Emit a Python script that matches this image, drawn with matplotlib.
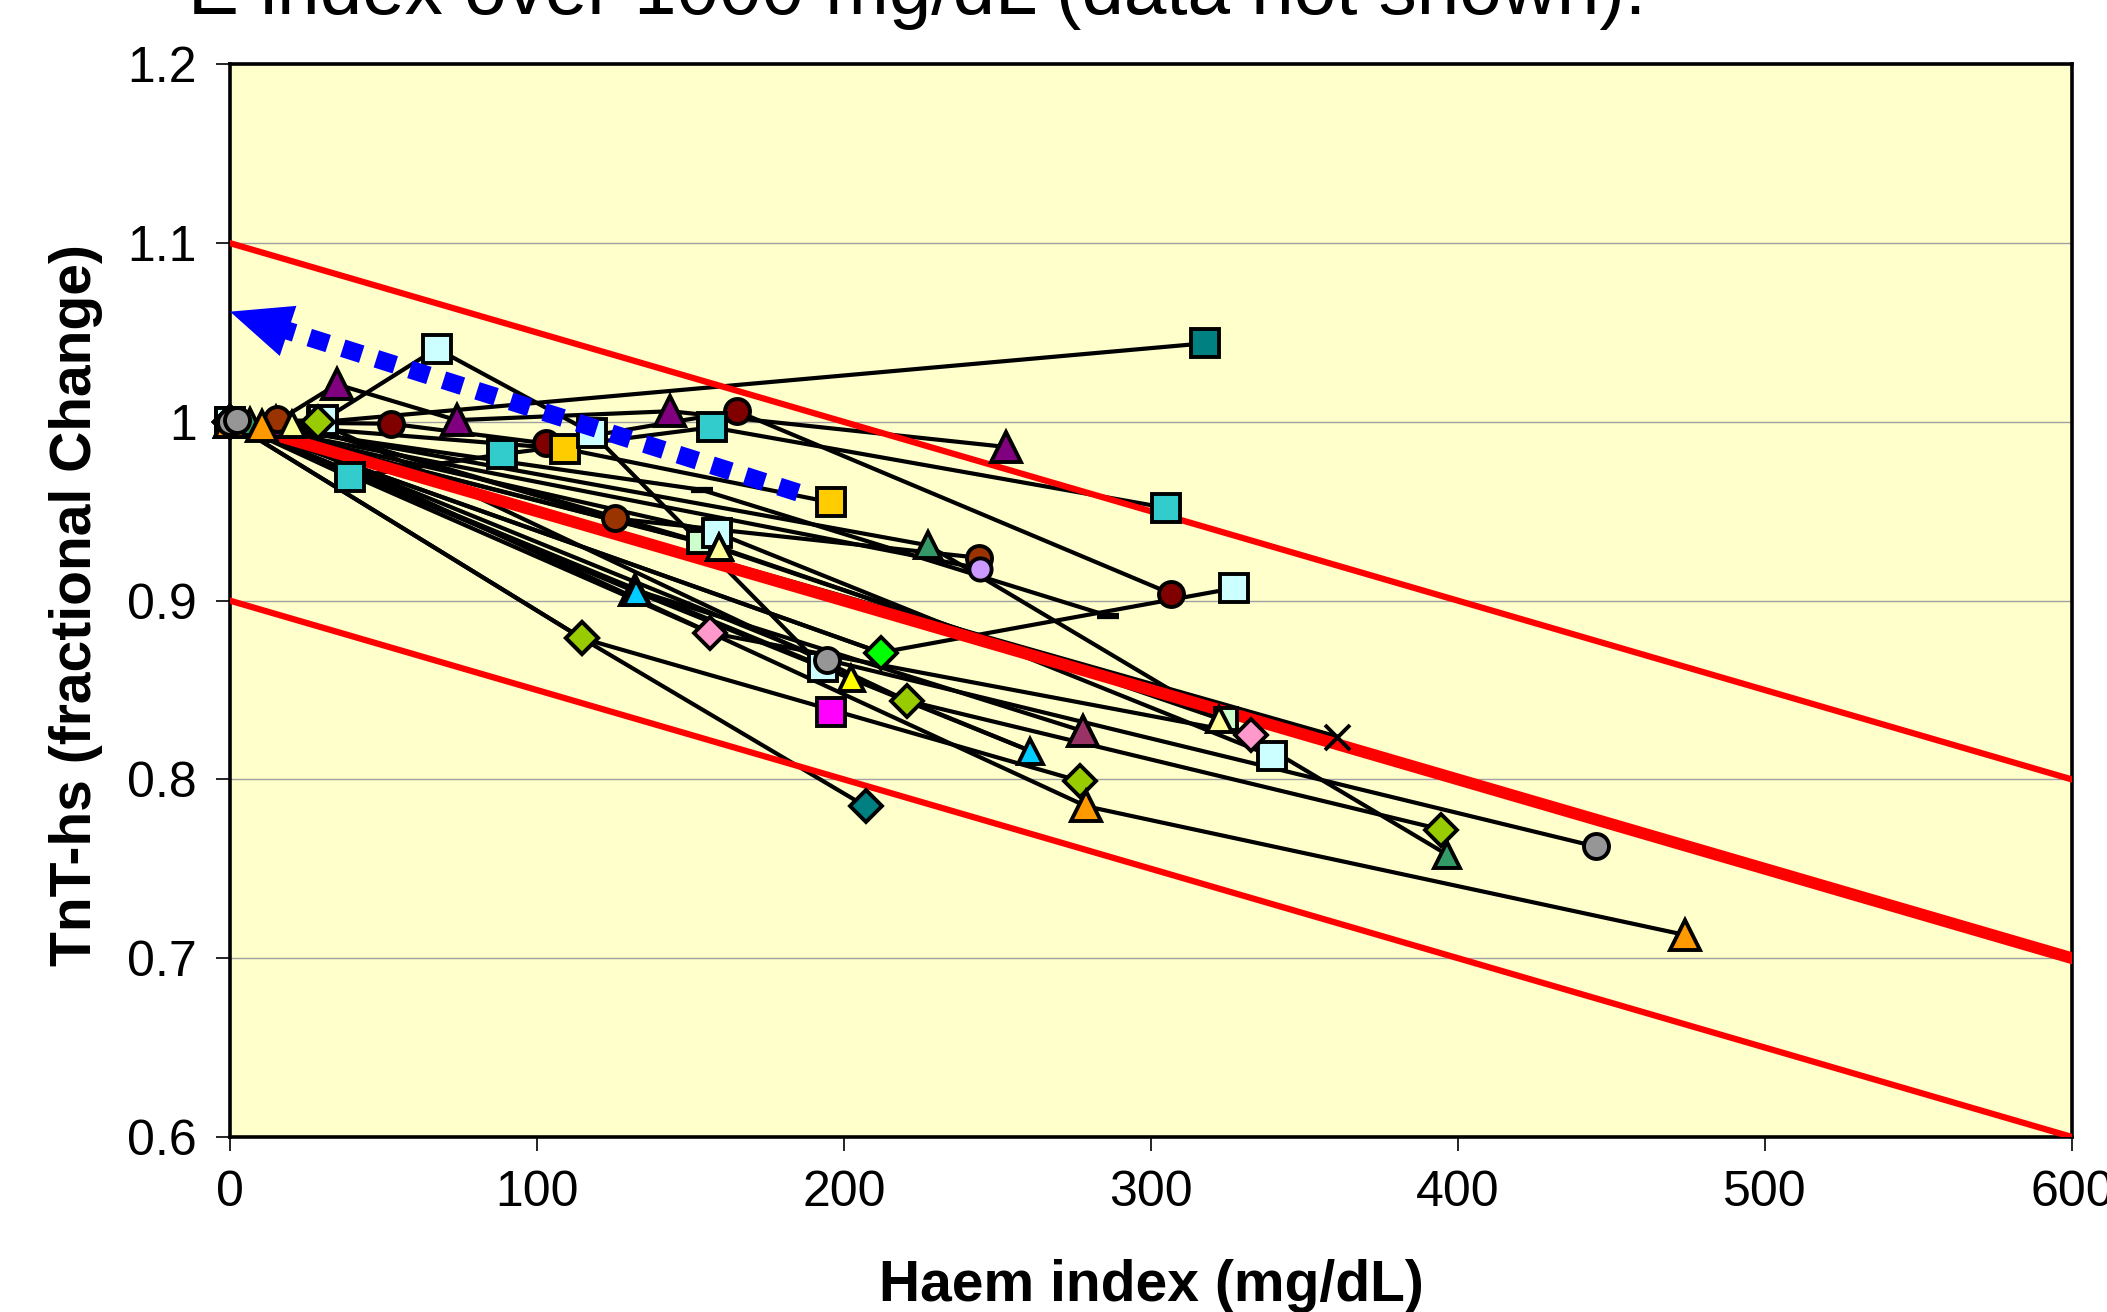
import matplotlib
matplotlib.use("Agg")
import matplotlib.pyplot as plt
from matplotlib.ticker import FuncFormatter

plt.rcParams['font.family'] = ['Liberation Sans', 'DejaVu Sans']

# reference lines (fractional change limits)
ref_x = [0, 600]
center_y = [1.0, 0.7]
upper_y = [1.1, 0.8]
lower_y = [0.9, 0.6]

# blue dotted arrow
arrow_x = [185, 17]
arrow_y = [0.9605, 1.052]
arrow_tip = (0, 1.0617)

# patient series: haem index vs fractional TnT-hs change
teal_sq_x = [0, 30, 317.6]
teal_sq_y = [1, 1.0, 1.044]
lcyan1_x = [0, 30.3, 67.3, 117.8, 193.0]
lcyan1_y = [1, 1.001, 1.041, 0.994, 0.863]
purple_x = [0, 15, 34.8, 73.8, 143.4, 252.8]
purple_y = [1, 1.0, 1.021, 1.001, 1.006, 0.986]
maroon_x = [0, 52.4, 102.9, 165.1, 306.4]
maroon_y = [1, 0.999, 0.988, 1.006, 0.904]
turq_x = [0, 39.1, 88.7, 156.9, 304.8]
turq_y = [1, 0.969, 0.982, 0.997, 0.952]
gold_x = [0, 109.1, 195.7]
gold_y = [1, 0.985, 0.955]
brown_x = [0, 15.2, 125.4, 244.0]
brown_y = [1, 1.0015, 0.946, 0.924]
lav_x = [0, 244.3]
lav_y = [1, 0.918]
sea_x = [0, 6.5, 227.3, 396.4]
sea_y = [1, 1.0, 0.931, 0.758]
dash_x = [0, 153.6, 286.1]
dash_y = [1, 0.962, 0.8915]
lcyan2_x = [0, 211.9, 327.1]
lcyan2_y = [1, 0.871, 0.907]
lime_x = [0, 211.9]
lime_y = [1, 0.871]
pyel1_x = [0, 20.1, 159.1]
pyel1_y = [1, 0.999, 0.930]
pyel2_x = [0, 159.1, 322.1]
pyel2_y = [1, 0.930, 0.834]
pgreen_x = [0, 152.9, 324.3]
pgreen_y = [1, 0.933, 0.834]
lcyan3_x = [0, 158.6, 339.4]
lcyan3_y = [1, 0.938, 0.813]
plum_x = [0, 131.9, 277.9]
plum_y = [1, 0.906, 0.827]
cyan_x = [0, 132.1, 260.6]
cyan_y = [1, 0.905, 0.816]
tealdia_x = [0, 114.6, 207.0]
tealdia_y = [1, 0.879, 0.785]
olive1_x = [0, 114.6, 277.0]
olive1_y = [1, 0.879, 0.799]
mag_x = [195.7]
mag_y = [0.838]
olive2_x = [0, 28.8, 220.6, 394.6]
olive2_y = [1, 1.0, 0.844, 0.772]
yellow_x = [0, 202.1, 260.6]
yellow_y = [1, 0.857, 0.816]
orange_x = [0, 10.3, 278.9, 474.0]
orange_y = [1, 0.998, 0.785, 0.713]
pink_x = [0, 156.4, 332.6]
pink_y = [1, 0.882, 0.825]
cross_x = [0, 360.6]
cross_y = [1, 0.824]
gray_x = [0, 2.2, 194.3, 444.8]
gray_y = [1, 1.001, 0.867, 0.7625]

x_ticks = [0, 100, 200, 300, 400, 500, 600]
y_ticks = [0.6, 0.7, 0.8, 0.9, 1.0, 1.1, 1.2]

# (x, y, marker, face colour, size, which points get a marker)
series = [
    (teal_sq_x, teal_sq_y, 's', '#008080', 19.5, None),
    (purple_x, purple_y, '^', '#800080', 22, None),
    (maroon_x, maroon_y, 'o', '#800000', 18, None),
    (turq_x, turq_y, 's', '#33CCCC', 19.5, None),
    (gold_x, gold_y, 's', '#FFCC00', 19.5, None),
    (lcyan1_x, lcyan1_y, 's', '#CCFFFF', 19.5, None),
    (brown_x, brown_y, 'o', '#993300', 18, None),
    (lav_x, lav_y, 'o', '#CC99FF', 16, None),
    (sea_x, sea_y, '^', '#339966', 19, None),
    (dash_x, dash_y, '_', 'black', 16, [1, 2]),
    (lcyan2_x, lcyan2_y, 's', '#CCFFFF', 19.5, [2]),
    (lime_x, lime_y, 'D', '#00FF00', 16.5, None),
    (pgreen_x, pgreen_y, 's', '#CCFFCC', 16, None),
    (lcyan3_x, lcyan3_y, 's', '#CCFFFF', 19.5, None),
    (pyel1_x, pyel1_y, '^', '#FFFF99', 18, None),
    (pyel2_x, pyel2_y, '^', '#FFFF99', 18, None),
    (plum_x, plum_y, '^', '#993366', 22, None),
    (cyan_x, cyan_y, '^', '#00CCFF', 18, None),
    (mag_x, mag_y, 's', '#FF00FF', 20.5, None),
    (tealdia_x, tealdia_y, 'D', '#008080', 16.5, None),
    (olive1_x, olive1_y, 'D', '#99CC00', 16.5, None),
    (olive2_x, olive2_y, 'D', '#99CC00', 16.5, None),
    (yellow_x, yellow_y, '^', '#FFFF00', 18, [0, 1]),
    (pink_x, pink_y, 'D', '#FF99CC', 16.5, None),
    (cross_x, cross_y, 'x', 'black', 18, [1]),
    (orange_x, orange_y, '^', '#FF9900', 22, None),
    (gray_x, gray_y, 'o', '#969696', 18, None),
]

fig = plt.figure(figsize=(21.07, 13.12), dpi=100)
ax = fig.add_axes([0.1092, 0.1334, 0.8742, 0.8175])
ax.set_facecolor('#FFFFCC')

# black connecting lines
for xs, ys, m, c, ms, every in series:
    ax.plot(xs, ys, color='black', lw=3.0, zorder=2, clip_on=False)

# red limit lines
ax.plot(ref_x, upper_y, color='#FF0000', lw=4.5, zorder=3)
ax.plot(ref_x, lower_y, color='#FF0000', lw=4.5, zorder=3)
ax.plot(ref_x, center_y, color='#FF0000', lw=8.5, zorder=3)

# markers on top
for xs, ys, m, c, ms, every in series:
    if m in ('_', 'x'):
        ax.plot(xs, ys, ls='none', marker=m, color='black', ms=ms, markevery=every,
                mew=4.5 if m == '_' else 2.8, zorder=4, clip_on=False)
    else:
        ax.plot(xs, ys, ls='none', marker=m, markerfacecolor=c, markevery=every,
                markeredgecolor='black', ms=ms, mew=2.8, zorder=4, clip_on=False)

# blue dotted arrow
ax.plot(arrow_x, arrow_y, color='#0000FF', lw=13, ls=(0, (1.1, 0.85)),
        dash_capstyle='butt', zorder=5)
ax.annotate('', xy=arrow_tip, xytext=(arrow_x[1], arrow_y[1]),
            arrowprops=dict(arrowstyle='-|>,head_length=4.4,head_width=1.9',
                            color='#0000FF', lw=0, shrinkA=0, shrinkB=0),
            zorder=6, annotation_clip=False)

ax.set_xlim(0, 600)
ax.set_ylim(0.6, 1.2)
ax.set_xticks(x_ticks)
ax.set_yticks(y_ticks)
ax.yaxis.set_major_formatter(FuncFormatter(lambda v, p: '%g' % round(v, 2)))
ax.tick_params(axis='both', labelsize=36, length=10, width=1.2, direction='out')
ax.tick_params(axis='x', pad=14)
ax.tick_params(axis='y', pad=14)
ax.yaxis.grid(True, color='#A0A0A0', lw=1.0)
ax.set_axisbelow(True)
for sp in ax.spines.values():
    sp.set_linewidth(2.6)
    sp.set_color('black')

fig.text(0.5467, 0.0084, 'Haem index (mg/dL)', fontsize=41, fontweight='bold',
         ha='center', va='baseline')
fig.text(0.0432, 0.539, 'TnT-hs (fractional Change)', fontsize=41, fontweight='bold',
         ha='center', va='baseline', rotation=90, rotation_mode='anchor')
fig.text(0.0892, 0.9897, 'E index over 1000 mg/dL (data not shown).', fontsize=55,
         ha='left', va='baseline')

fig.savefig('out.png', dpi=100)
